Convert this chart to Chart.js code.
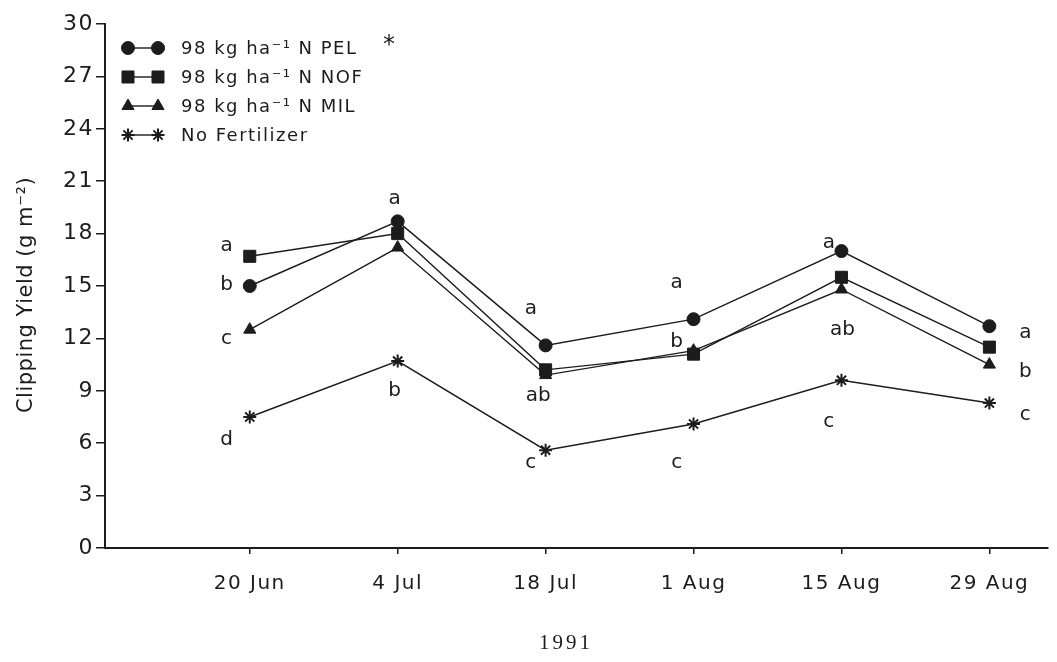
<!DOCTYPE html>
<html>
<head>
<meta charset="utf-8">
<script src="https://cdn.jsdelivr.net/npm/chart.js@4/dist/chart.umd.min.js"></script>
<style>
  html, body { margin: 0; padding: 0; background: #fff; }
  #wrap { width: 1057px; height: 662px; position: relative; }
</style>
</head>
<body>
<div id="wrap"><canvas id="c"></canvas></div>
<script>
// Sampling dates, as days after 20 June 1991
const sampleDays = [0, 14, 28, 42, 56, 70];
const dateLabels = ['20 Jun', '4 Jul', '18 Jul', '1 Aug', '15 Aug', '29 Aug'];
const yTicks = [0, 3, 6, 9, 12, 15, 18, 21, 24, 27, 30];

// Clipping yield (g m-2) per treatment
const pel = [15.0, 18.7, 11.6, 13.1, 17.0, 12.7];
const nof = [16.7, 18.0, 10.2, 11.1, 15.5, 11.5];
const mil = [12.5, 17.2, 9.9, 11.3, 14.8, 10.5];
const noFert = [7.5, 10.7, 5.6, 7.1, 9.6, 8.3];

const seriesNames = ['98 kg ha\u207B\u00B9 N PEL', '98 kg ha\u207B\u00B9 N NOF', '98 kg ha\u207B\u00B9 N MIL', 'No Fertilizer'];

// Mean separation letters: [text, day, yield-axis level]
const sepLetters = [
  ['a', -2.2, 17.3], ['b', -2.2, 15.05], ['c', -2.2, 12.0], ['d', -2.2, 6.2],
  ['a', 13.7, 20.0], ['b', 13.7, 9.0],
  ['a', 26.6, 13.7], ['ab', 27.3, 8.7], ['c', 26.6, 4.9],
  ['a', 40.4, 15.2], ['b', 40.4, 11.8], ['c', 40.4, 4.9],
  ['a', 54.8, 17.5], ['ab', 56.1, 12.5], ['c', 54.8, 7.2],
  ['a', 73.4, 12.3], ['b', 73.4, 10.1], ['c', 73.4, 7.6]
];

const INK = '#1c1c1c';
const FONT = '"DejaVu Sans", "Open Sans", sans-serif';
const TICK_SPACING = '1.5px';

function pts(vals) { return vals.map((v, i) => ({ x: sampleDays[i], y: v })); }

const styles = [
  { pointStyle: 'circle', pointRadius: 6.5, pointBorderWidth: 1 },
  { pointStyle: 'rect', pointRadius: 8.5, pointBorderWidth: 1 },
  { pointStyle: 'triangle', pointRadius: 7, pointBorderWidth: 1 },
  { pointStyle: 'star', pointRadius: 6.5, pointBorderWidth: 2 }
];

const datasets = [pel, nof, mil, noFert].map((vals, i) => Object.assign({
  label: seriesNames[i],
  data: pts(vals),
  borderColor: INK,
  backgroundColor: INK,
  pointBackgroundColor: INK,
  pointBorderColor: INK,
  borderWidth: 1.4,
  tension: 0,
  fill: false
}, styles[i]));

// Wider tracking for the axis tick labels
const tracking = {
  id: 'tracking',
  beforeLayout(chart) { chart.ctx.letterSpacing = TICK_SPACING; },
  beforeDraw(chart) { chart.ctx.letterSpacing = TICK_SPACING; }
};

// Axis title, letters, legend and year caption
const extras = {
  id: 'extras',
  afterDraw(chart) {
    const ctx = chart.ctx;
    const xs = chart.scales.x, ys = chart.scales.y;
    ctx.save();
    ctx.fillStyle = INK;

    // y axis title
    ctx.save();
    ctx.letterSpacing = '0.5px';
    ctx.translate(27, (chart.chartArea.top + chart.chartArea.bottom) / 2 + 9);
    ctx.rotate(-Math.PI / 2);
    ctx.textAlign = 'center';
    ctx.textBaseline = 'middle';
    ctx.font = '21px ' + FONT;
    ctx.fillText('Clipping Yield (g m\u207B\u00B2)', 0, 0);
    ctx.restore();

    ctx.letterSpacing = '0px';
    ctx.textAlign = 'center';
    ctx.textBaseline = 'middle';
    ctx.font = '20px ' + FONT;
    sepLetters.forEach(([t, d, v]) => {
      ctx.fillText(t, xs.getPixelForValue(d), ys.getPixelForValue(v));
    });

    // legend
    const lx0 = 128, lx1 = 158, tx = 181, ly0 = 48, step = 29;
    ctx.textAlign = 'left';
    ctx.letterSpacing = '1.5px';
    ctx.font = '18px ' + FONT;
    chart.data.datasets.forEach((ds, i) => {
      const y = ly0 + i * step;
      ctx.strokeStyle = INK;
      ctx.lineWidth = 1.4;
      ctx.beginPath(); ctx.moveTo(lx0, y); ctx.lineTo(lx1, y); ctx.stroke();
      const opt = { pointStyle: ds.pointStyle, radius: ds.pointRadius, borderWidth: ds.pointBorderWidth, rotation: 0 };
      ctx.fillStyle = INK; ctx.strokeStyle = INK;
      ctx.lineWidth = ds.pointBorderWidth;
      Chart.helpers.drawPoint(ctx, opt, lx0, y);
      Chart.helpers.drawPoint(ctx, opt, lx1, y);
      ctx.fillStyle = INK;
      ctx.fillText(ds.label, tx, y + 1);
    });
    ctx.letterSpacing = '0px';
    ctx.font = '24px ' + FONT;
    ctx.fillText('*', 383, 46);

    ctx.textAlign = 'center';
    ctx.letterSpacing = '3px';
    ctx.font = '21px "Liberation Serif", "DejaVu Serif", serif';
    ctx.fillText('1991', 566, 643);
    ctx.restore();
  }
};

new Chart(document.getElementById('c'), {
  type: 'line',
  data: { datasets },
  plugins: [tracking, extras],
  options: {
    responsive: true,
    maintainAspectRatio: false,
    animation: false,
    layout: { padding: { top: 24, right: 7, left: 0, bottom: 0 } },
    plugins: { legend: { display: false }, tooltip: { enabled: false } },
    scales: {
      x: {
        type: 'linear',
        min: -13.7,
        max: 75.5,
        afterBuildTicks(s) { s.ticks = sampleDays.map(v => ({ value: v })); },
        afterFit(s) { s.height = 114; },
        ticks: {
          callback: (v) => dateLabels[sampleDays.indexOf(v)],
          color: INK,
          font: { family: FONT, size: 20 },
          padding: 18,
          maxRotation: 0,
          autoSkip: false
        },
        grid: { drawOnChartArea: false, drawTicks: true, tickLength: 6, color: INK, lineWidth: 1.5 },
        border: { display: true, color: INK, width: 2 }
      },
      y: {
        type: 'linear',
        min: 0,
        max: 30,
        afterBuildTicks(s) { s.ticks = yTicks.map(v => ({ value: v })); },
        afterFit(s) { s.width = 105; },
        ticks: {
          color: INK,
          font: { family: FONT, size: 22 },
          padding: 2
        },
        grid: { drawOnChartArea: false, drawTicks: true, tickLength: 9, color: INK, lineWidth: 1.5 },
        border: { display: true, color: INK, width: 2 }
      }
    }
  }
});
</script>
</body>
</html>
